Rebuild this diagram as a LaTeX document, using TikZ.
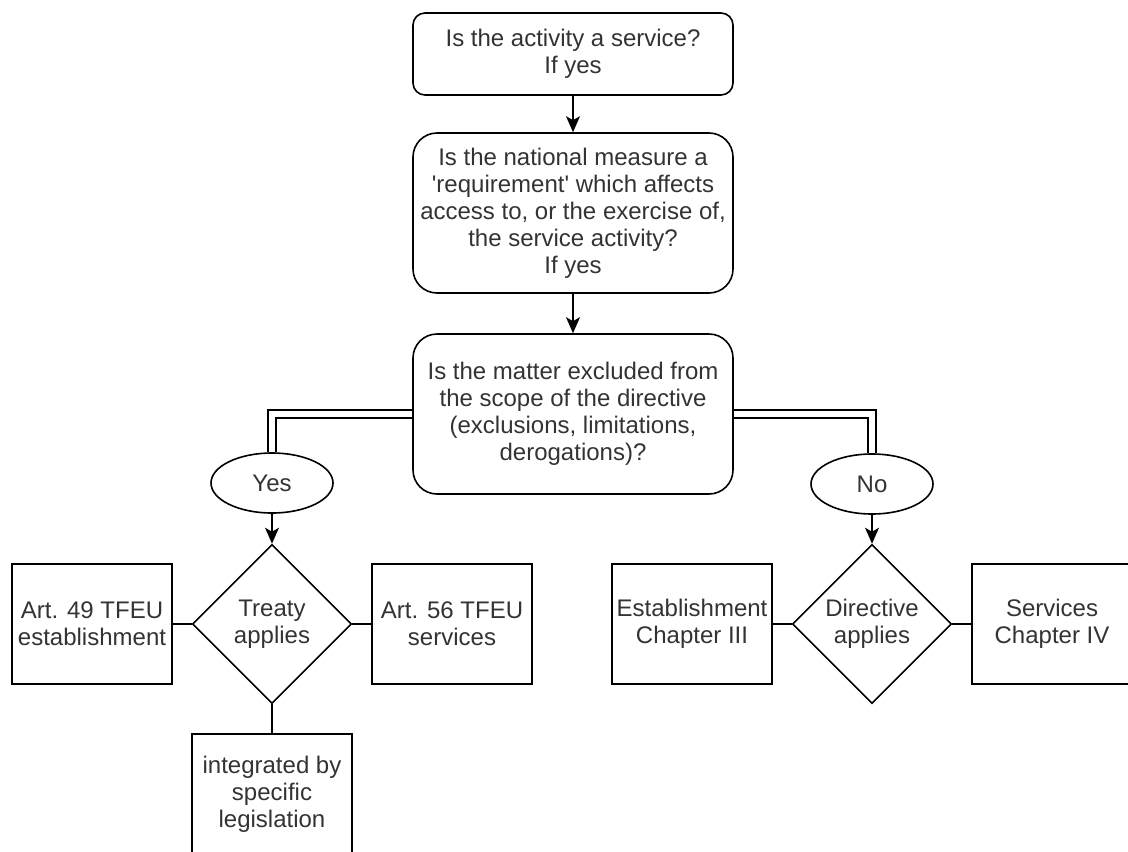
\documentclass[tikz,border=0pt]{standalone}
\usepackage{fontspec}
\setmainfont{Liberation Sans}
\usepackage{tikz}
\usetikzlibrary{shapes.geometric, arrows.meta, positioning}

\begin{document}
\begin{tikzpicture}[
  x=0.5pt, y=-0.5pt,
  every node/.style={font=\fontsize{12}{13.5}\selectfont, text=black!80},
  question/.style={rectangle, draw, rounded corners=12pt, minimum width=160pt, minimum height=80pt, align=center, line width=0.8pt},
  choice/.style={ellipse, draw, minimum width=61pt, minimum height=30pt, line width=0.8pt},
  decision/.style={diamond, draw, minimum size=79.5pt, inner sep=0pt, align=center, line width=0.8pt},
  article/.style={rectangle, draw, minimum width=80pt, minimum height=60pt, inner sep=1pt, align=center, line width=0.8pt},
  arrow/.style={-{Stealth[length=8pt, width=7pt, inset=2pt]}, line width=0.8pt},
  link/.style={double, double distance=3.3pt, line width=0.7pt},
  branch/.style={line width=0.8pt}
]
\useasboundingbox (0,0) rectangle (1128,851);

% Questions
\node[question, rounded corners=6pt, minimum height=41pt] (Q1) at (573, 54) {Is the activity a service?\\If yes};
\node[question] (Q2) at (573, 213) {Is the national measure a\\\textquotesingle requirement\textquotesingle{} which affects\\access to, or the exercise of,\\the service activity?\\If yes};
\node[question] (Q3) at (573, 414) {Is the matter excluded from\\the scope of the directive\\(exclusions, limitations,\\derogations)?};

% Answers
\node[choice] (Y) at (272, 483) {Yes};
\node[choice] (N) at (872, 484) {No};

% Treaty side
\node[decision] (T) at (272, 624) {Treaty\\applies};
\node[article] (T49) at (92, 624) {Art. 49 TFEU\\establishment};
\node[article] (T56) at (452, 624) {Art. 56 TFEU\\services};
\node[article] (TL) at (272, 794) {integrated by\\specific\\legislation};

% Directive side
\node[decision] (D) at (872, 624) {Directive\\applies};
\node[article] (D3) at (692, 624) {Establishment\\Chapter III};
\node[article] (D4) at (1052, 624) {Services\\Chapter IV};

% Flow
\draw[arrow] (Q1) -- (Q2);
\draw[arrow] (Q2) -- (Q3);
\draw[link] (Q3.west) -| (Y.north);
\draw[link] (Q3.east) -| (N.north);
\draw[arrow] (Y) -- (T);
\draw[arrow] (N) -- (D);

% Branches
\draw[branch] (T) -- (T49);
\draw[branch] (T) -- (T56);
\draw[branch] (T) -- (TL);
\draw[branch] (D) -- (D3);
\draw[branch] (D) -- (D4);

\end{tikzpicture}
\end{document}
